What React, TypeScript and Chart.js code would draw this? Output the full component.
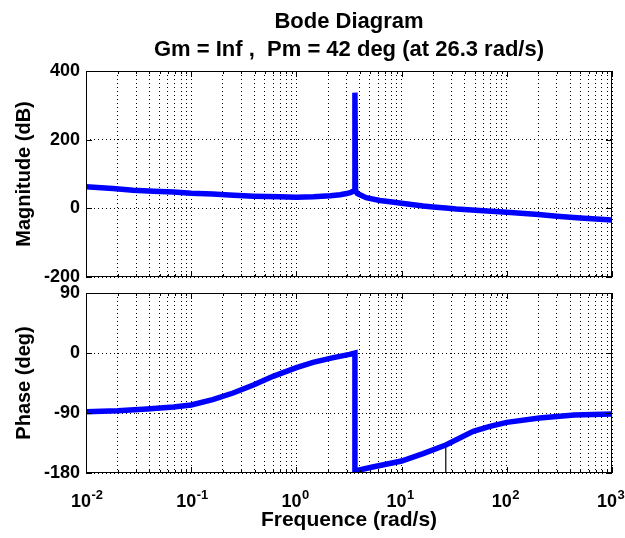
import React, { useEffect, useRef } from 'react';
import { Chart, registerables } from 'chart.js';

Chart.register(...registerables);

const FONT = "'Liberation Sans', Arial, Helvetica, sans-serif";

const titleLines = ['Bode Diagram', 'Gm = Inf ,  Pm = 42 deg (at 26.3 rad/s)'];
const magTitle = 'Magnitude (dB)';
const phaseTitle = 'Phase (deg)';
const freqTitle = 'Frequence (rad/s)';

const xTickValues = [0.01, 0.1, 1, 10, 100, 1000];
const xTickBase = '10';
const xTickExponents = ['-2', '-1', '0', '1', '2', '3'];
const minorSteps = [2, 3, 4, 5, 6, 7, 8, 9];
const magTicks = [-200, 0, 200, 400];
const phaseTicks = [-180, -90, 0, 90];

const magFreq = [0.01, 0.018, 0.028, 0.044, 0.068, 0.1, 0.16, 0.23, 0.39, 0.7, 1.0, 1.45, 2.1, 2.6, 3.0, 3.3, 3.55, 3.6, 3.65, 3.8, 4.6, 6.2, 7.8, 10, 16, 20, 26.3, 33, 60, 100, 200, 300, 500, 1000];
const magDb = [63, 57.5, 52.5, 50, 47.5, 44, 41.5, 38.5, 35.5, 33.5, 32.5, 33.5, 36.5, 39.5, 43, 46.5, 51, 337, 51, 43, 31, 23, 19, 15, 7, 4, 1, -2, -7, -11.5, -18, -23, -28, -34];

const phaseFreq = [0.01, 0.02, 0.038, 0.068, 0.1, 0.16, 0.25, 0.39, 0.6, 1.0, 1.44, 2.25, 3.2, 3.6, 3.6, 5.3, 10, 16, 26.3, 48, 69, 100, 204, 437, 1000];
const phaseDeg = [-88, -86.5, -84, -81, -78, -70, -60, -48, -35, -22, -14, -7, -2, 0, -177, -171, -162, -151, -138, -117.5, -110, -104, -97.5, -93, -91.5];

const pmFreq = [26.3, 26.3];
const pmDeg = [-180, -138];

const X_TICK_SIZE = 18;
const X_TICK_PAD = 18;
const EXP_SIZE = 13;

const xTicksAll: number[] = [];
xTickValues.forEach((d, i) => {
  xTicksAll.push(d);
  if (i < xTickValues.length - 1) minorSteps.forEach((m) => xTicksAll.push(d * m));
});

const majorIndex = (v: number) => xTickValues.findIndex((t) => Math.abs(t - v) / t < 1e-6);
const isMajorX = (v: number) => majorIndex(v) >= 0;

const boxPlugin = {
  id: 'matlabBox',
  afterDatasetsDraw(chart: any) {
    const { ctx, chartArea: a, scales } = chart;
    const xs = scales.x;
    const ys = scales.y;
    ctx.save();
    ctx.setLineDash([]);
    ctx.strokeStyle = '#000';
    ctx.lineWidth = 1;
    ctx.beginPath();
    xs.ticks.forEach((t: any) => {
      const px = Math.round(xs.getPixelForValue(t.value)) + 0.5;
      const len = isMajorX(t.value) ? 6 : 3;
      ctx.moveTo(px, a.bottom);
      ctx.lineTo(px, a.bottom - len);
      ctx.moveTo(px, a.top);
      ctx.lineTo(px, a.top + len);
    });
    ys.ticks.forEach((t: any) => {
      const py = Math.round(ys.getPixelForValue(t.value)) + 0.5;
      ctx.moveTo(a.left, py);
      ctx.lineTo(a.left + 6, py);
      ctx.moveTo(a.right, py);
      ctx.lineTo(a.right - 6, py);
    });
    ctx.stroke();
    ctx.strokeRect(
      Math.round(a.left) + 0.5,
      Math.round(a.top) + 0.5,
      Math.round(a.right - a.left) - 1,
      Math.round(a.bottom - a.top) - 1
    );
    ctx.restore();
  },
};

// draws the decade exponents next to the "10" tick labels of the bottom axis
const exponentPlugin = {
  id: 'decadeExponents',
  afterDraw(chart: any) {
    const xs = chart.scales.x;
    if (!xs.options.ticks.display) return;
    const { ctx } = chart;
    ctx.save();
    ctx.font = `bold ${X_TICK_SIZE}px ${FONT}`;
    const fullW = ctx.measureText(xTickBase + '  ').width;
    const baseW = ctx.measureText(xTickBase).width;
    const yMid = xs.top + X_TICK_PAD + (X_TICK_SIZE * 1.2) / 2;
    ctx.font = `bold ${EXP_SIZE}px ${FONT}`;
    ctx.fillStyle = '#000';
    ctx.textAlign = 'left';
    ctx.textBaseline = 'alphabetic';
    xs.ticks.forEach((t: any) => {
      const i = majorIndex(t.value);
      if (i < 0) return;
      const px = xs.getPixelForValue(t.value);
      const left = px - fullW / 2;
      ctx.fillText(xTickExponents[i], left + baseW + 0.5, yMid - 3);
    });
    ctx.restore();
  },
};

function xScale(showLabels: boolean, height: number) {
  return {
    type: 'logarithmic' as const,
    min: 0.01,
    max: 1000,
    afterBuildTicks: (s: any) => {
      s.ticks = xTicksAll.map((v) => ({ value: v, major: isMajorX(v) }));
    },
    afterFit: (s: any) => {
      s.height = height;
      s.paddingLeft = 0;
      s.paddingRight = 0;
    },
    grid: { color: '#000', lineWidth: 1, drawTicks: false },
    border: { display: false, dash: [1, 3] },
    ticks: {
      display: showLabels,
      autoSkip: false,
      maxRotation: 0,
      padding: X_TICK_PAD,
      color: '#000',
      font: { family: FONT, size: X_TICK_SIZE, weight: 'bold' as const },
      callback: (value: any) => (isMajorX(Number(value)) ? xTickBase + '  ' : ''),
    },
    title: showLabels
      ? {
          display: true,
          text: freqTitle,
          color: '#000',
          font: { family: FONT, size: 21, weight: 'bold' as const },
          padding: { top: 0, bottom: 5 },
        }
      : { display: false },
  };
}

function yScale(min: number, max: number, ticks: number[], title: string) {
  return {
    type: 'linear' as const,
    min,
    max,
    afterBuildTicks: (s: any) => {
      s.ticks = ticks.map((v) => ({ value: v }));
    },
    afterFit: (s: any) => {
      s.width = 86;
      s.paddingTop = 0;
      s.paddingBottom = 0;
    },
    grid: { color: '#000', lineWidth: 1, drawTicks: false },
    border: { display: false, dash: [1, 3] },
    ticks: {
      padding: 6,
      color: '#000',
      font: { family: FONT, size: 18, weight: 'bold' as const },
    },
    title: {
      display: true,
      text: title,
      color: '#000',
      font: { family: FONT, size: 20, weight: 'bold' as const },
      padding: { top: 12, bottom: 0 },
    },
  };
}

export default function App() {
  const magRef = useRef<HTMLCanvasElement>(null);
  const phRef = useRef<HTMLCanvasElement>(null);

  useEffect(() => {
    const magChart = new Chart(magRef.current as HTMLCanvasElement, {
      type: 'line',
      data: {
        datasets: [
          {
            data: magFreq.map((f, i) => ({ x: f, y: magDb[i] })),
            borderColor: '#0000ff',
            borderWidth: 5.5,
            pointRadius: 0,
            fill: false,
            tension: 0,
          },
        ],
      },
      options: {
        responsive: false,
        animation: false,
        devicePixelRatio: 1,
        events: [],
        layout: { padding: { left: 0, right: 13, top: 0, bottom: 8 } },
        scales: {
          x: xScale(false, 0) as any,
          y: yScale(-200, 400, magTicks, magTitle) as any,
        },
        plugins: {
          legend: { display: false },
          tooltip: { enabled: false },
          title: {
            display: true,
            text: titleLines,
            color: '#000',
            fullSize: false,
            font: { family: FONT, size: 22, weight: 'bold', lineHeight: '28px' } as any,
            padding: { top: 8, bottom: 7 },
          },
        },
      },
      plugins: [boxPlugin],
    });

    const phaseChart = new Chart(phRef.current as HTMLCanvasElement, {
      type: 'line',
      data: {
        datasets: [
          {
            data: phaseFreq.map((f, i) => ({ x: f, y: phaseDeg[i] })),
            borderColor: '#0000ff',
            borderWidth: 5.5,
            pointRadius: 0,
            fill: false,
            tension: 0,
          },
          {
            data: pmFreq.map((f, i) => ({ x: f, y: pmDeg[i] })),
            borderColor: '#000000',
            borderWidth: 1.2,
            pointRadius: 0,
            fill: false,
            tension: 0,
          },
        ],
      },
      options: {
        responsive: false,
        animation: false,
        devicePixelRatio: 1,
        events: [],
        layout: { padding: { left: 0, right: 13, top: 8, bottom: 0 } },
        scales: {
          x: xScale(true, 65) as any,
          y: yScale(-180, 90, phaseTicks, phaseTitle) as any,
        },
        plugins: {
          legend: { display: false },
          tooltip: { enabled: false },
          title: { display: false },
        },
      },
      plugins: [boxPlugin, exponentPlugin],
    });

    return () => {
      magChart.destroy();
      phaseChart.destroy();
    };
  }, []);

  return (
    <div style={{ position: 'fixed', left: 0, top: 0, width: 625, height: 538, background: '#fff' }}>
      <canvas
        ref={magRef}
        width={625}
        height={285}
        style={{ position: 'absolute', left: 0, top: 0, width: 625, height: 285 }}
      />
      <canvas
        ref={phRef}
        width={625}
        height={253}
        style={{ position: 'absolute', left: 0, top: 285, width: 625, height: 253 }}
      />
    </div>
  );
}
